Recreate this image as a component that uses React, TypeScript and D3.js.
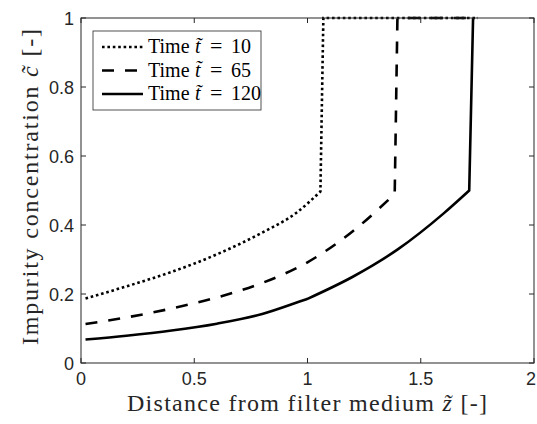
import React from "react";
import * as d3 from "d3";

// Series data
const zT10 = [0.02, 0.2, 0.4, 0.6, 0.8, 0.95, 1.057, 1.07, 1.75];
const cT10 = [0.187, 0.222, 0.264, 0.315, 0.378, 0.435, 0.497, 1.0, 1.0];

const zT65 = [0.02, 0.2, 0.4, 0.6, 0.8, 1.0, 1.2, 1.385, 1.397, 1.75];
const cT65 = [0.113, 0.132, 0.158, 0.19, 0.232, 0.292, 0.382, 0.49, 1.0, 1.0];

const zT120 = [0.02, 0.2, 0.4, 0.6, 0.8, 0.965, 1.0, 1.2, 1.4, 1.6, 1.714, 1.731];
const cT120 = [0.068, 0.079, 0.094, 0.114, 0.142, 0.178, 0.186, 0.25, 0.33, 0.433, 0.5, 1.0];

// index ranges of the smooth pieces of each curve (the rest is straight)
const smoothT10 = [[0, 6]];
const smoothT65 = [[0, 7]];
const smoothT120 = [[0, 6], [6, 10]];

const xTicks = [0, 0.5, 1, 1.5, 2];
const xTickLabels = ["0", "0.5", "1", "1.5", "2"];
const yTicks = [0, 0.2, 0.4, 0.6, 0.8, 1];
const yTickLabels = ["0", "0.2", "0.4", "0.6", "0.8", "1"];

const seriesNames = ["10", "65", "120"];

const W = 537;
const H = 424;
const AX = "#262626";
const SANS = "Liberation Sans, Arial, sans-serif";
const SERIF = "Liberation Serif, DejaVu Serif, serif";

export default function App() {
  const x = d3.scaleLinear().domain([0, 2]).range([81, 534]);
  const y = d3.scaleLinear().domain([0, 1]).range([363, 18]);
  const smooth = d3
    .line<[number, number]>()
    .x((d) => x(d[0]))
    .y((d) => y(d[1]))
    .curve(d3.curveMonotoneX);
  const straight = d3
    .line<[number, number]>()
    .x((d) => x(d[0]))
    .y((d) => y(d[1]));

  const buildPath = (z: number[], c: number[], pieces: number[][]) => {
    const pts = z.map((zz, j) => [zz, c[j]] as [number, number]);
    let d = "";
    let cur = 0;
    const addStraight = (a: number, b: number) => {
      if (b <= a) return;
      const s = straight(pts.slice(a, b + 1)) || "";
      d += d ? s.replace(/^M/, "L") : s;
    };
    pieces.forEach(([a, b]) => {
      addStraight(cur, a);
      const s = smooth(pts.slice(a, b + 1)) || "";
      d += d ? s.replace(/^M/, "L") : s;
      cur = b;
    });
    addStraight(cur, pts.length - 1);
    return d;
  };

  const series = [
    { d: buildPath(zT10, cT10, smoothT10), dash: "2.6,2.8", name: seriesNames[0] },
    { d: buildPath(zT65, cT65, smoothT65), dash: "12,11", name: seriesNames[1] },
    { d: buildPath(zT120, cT120, smoothT120), dash: "none", name: seriesNames[2] },
  ];

  const tick = 5;
  const [x0, x1] = x.range();
  const [y0, y1] = y.range();

  const legX = 93,
    legY = 31,
    legW = 168,
    legH = 79;
  const rowY = [47, 70.5, 94];

  return (
    <svg
      width={W}
      height={H}
      style={{ position: "absolute", left: 0, top: 0, background: "#fff" }}
    >
      <rect x={0} y={0} width={W} height={H} fill="#fff" />
      {/* curves */}
      <g>
        {series.map((s, i) => (
          <path
            key={i}
            d={s.d}
            fill="none"
            stroke="#000"
            strokeWidth={2.6}
            strokeDasharray={s.dash}
            strokeLinejoin="miter"
          />
        ))}
      </g>
      {/* axes box */}
      <rect
        x={x0}
        y={y1}
        width={x1 - x0}
        height={y0 - y1}
        fill="none"
        stroke={AX}
        strokeWidth={1}
      />
      {/* x ticks */}
      {xTicks.map((t, i) => {
        const last = i === xTicks.length - 1;
        return (
          <g key={"xt" + i}>
            <line x1={x(t)} x2={x(t)} y1={y0} y2={y0 - tick} stroke={AX} />
            <line x1={x(t)} x2={x(t)} y1={y1} y2={y1 + tick} stroke={AX} />
            <text
              x={last ? W - 1 : x(t)}
              y={385}
              textAnchor={last ? "end" : "middle"}
              fontFamily={SANS}
              fontSize={18}
              fill={AX}
            >
              {xTickLabels[i]}
            </text>
          </g>
        );
      })}
      {/* y ticks */}
      {yTicks.map((t, i) => (
        <g key={"yt" + i}>
          <line x1={x0} x2={x0 + tick} y1={y(t)} y2={y(t)} stroke={AX} />
          <line x1={x1} x2={x1 - tick} y1={y(t)} y2={y(t)} stroke={AX} />
          <text
            x={74}
            y={y(t) + 6.5}
            textAnchor="end"
            fontFamily={SANS}
            fontSize={18}
            fill={AX}
          >
            {yTickLabels[i]}
          </text>
        </g>
      ))}
      {/* axis labels */}
      <text
        x={127}
        y={410.5}
        textLength={360}
        lengthAdjust="spacing"
        fontFamily={SERIF}
        fontSize={24}
        fill={AX}
      >
        Distance from filter medium{" "}
        <tspan fontStyle="italic">{"z\u0303"}</tspan> [-]
      </text>
      <text
        transform={`translate(38, 345) rotate(-90)`}
        textLength={316}
        lengthAdjust="spacing"
        fontFamily={SERIF}
        fontSize={24}
        fill={AX}
      >
        Impurity concentration{" "}
        <tspan fontStyle="italic">{"c\u0303"}</tspan> [-]
      </text>
      {/* legend */}
      <rect
        x={legX}
        y={legY}
        width={legW}
        height={legH}
        fill="#fff"
        stroke={AX}
        strokeWidth={0.8}
      />
      {series.map((s, i) => (
        <g key={"lg" + i}>
          <line
            x1={102}
            x2={143}
            y1={rowY[i]}
            y2={rowY[i]}
            stroke="#000"
            strokeWidth={2.6}
            strokeDasharray={s.dash}
          />
          <text
            x={148}
            y={rowY[i] + 6}
            fontFamily={SERIF}
            fontSize={20}
            fill="#000"
          >
            Time{" "}
            <tspan x={195} fontStyle="italic">{"t\u0303"}</tspan>
            <tspan x={210} fontSize={22}>=</tspan>
            <tspan x={231}>{s.name}</tspan>
          </text>
        </g>
      ))}
    </svg>
  );
}
